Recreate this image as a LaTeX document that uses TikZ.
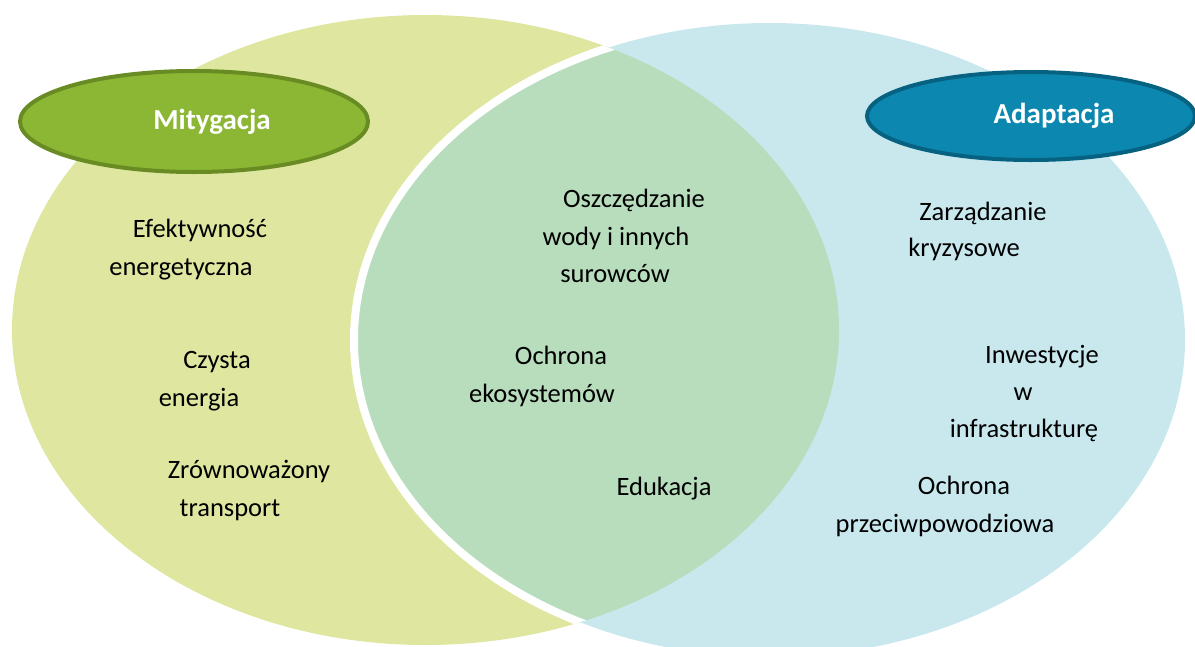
\documentclass[tikz,border=0pt]{standalone}
\usepackage{fontspec}
\setmainfont{Carlito}
\usetikzlibrary{shapes.geometric}
\definecolor{leftfill}{RGB}{223,230,160}
\definecolor{rightfill}{RGB}{200,232,238}
\definecolor{overlapfill}{RGB}{183,221,189}
\definecolor{mitfill}{RGB}{139,183,52}
\definecolor{mitline}{RGB}{104,140,35}
\definecolor{adafill}{RGB}{11,135,176}
\definecolor{adaline}{RGB}{6,98,128}
\tikzset{
  item/.style={anchor=base, inner sep=0pt, font=\fontsize{26.5}{30}\selectfont, text=black},
  title/.style={ellipse, line width=4pt, text=white, inner sep=0pt,
    font=\fontsize{29}{32}\selectfont\bfseries},
}
\begin{document}
\begin{tikzpicture}[x=1pt,y=-1pt]
\useasboundingbox (0,0) rectangle (1195,646);
% big ellipses
\fill[leftfill] (425.5,330) ellipse [x radius=413.5pt, y radius=315pt];
\fill[rightfill] (769.5,340) ellipse [x radius=415.5pt, y radius=317pt];
\begin{scope}
  \clip (425.5,330) ellipse [x radius=413.5pt, y radius=315pt];
  \fill[overlapfill] (769.5,340) ellipse [x radius=415.5pt, y radius=317pt];
  \draw[white, line width=8pt] (769.5,340) ellipse [x radius=415.5pt, y radius=317pt];
\end{scope}
% titles
\node[title, draw=mitline, fill=mitfill, minimum width=348pt, minimum height=101pt]
  (mit) at (194,121.5) {\hspace*{36pt}Mitygacja};
\node[title, draw=adaline, fill=adafill, minimum width=328pt, minimum height=88pt]
  (ada) at (1031,116) {\hspace*{46pt}Adaptacja};
% left items
\node[item] (l1a) at (200,237) {Efektywność};
\node[item] (l1b) at (181,275) {energetyczna};
\node[item] (l2a) at (217,368) {Czysta};
\node[item] (l2b) at (199,406) {energia};
\node[item] (l3a) at (249,478) {Zrównoważony};
\node[item] (l3b) at (230,516) {transport};
% middle items
\node[item] (m1a) at (634,207) {Oszczędzanie};
\node[item] (m1b) at (616,245) {wody i innych};
\node[item] (m1c) at (615,282) {surowców};
\node[item] (m2a) at (561,364) {Ochrona};
\node[item] (m2b) at (542,402) {ekosystemów};
\node[item] (m3) at (664,495) {Edukacja};
% right items
\node[item] (r1a) at (983,220) {Zarządzanie};
\node[item] (r1b) at (964,256) {kryzysowe};
\node[item] (r2a) at (1042,363) {Inwestycje};
\node[item] (r2b) at (1023,400) {w};
\node[item] (r2c) at (1024,437) {infrastrukturę};
\node[item] (r3a) at (964,494) {Ochrona};
\node[item] (r3b) at (945,532) {przeciwpowodziowa};
\end{tikzpicture}
\end{document}
